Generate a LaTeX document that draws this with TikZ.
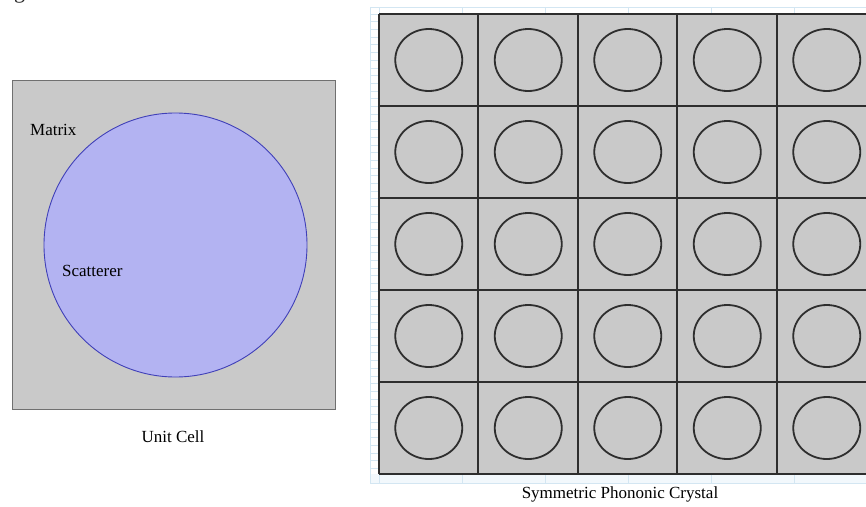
\documentclass[tikz,border=0pt]{standalone}
\usepackage{fontspec}
\setmainfont{Liberation Serif}
\definecolor{cellgray}{HTML}{C9C9C9}
\definecolor{cellborder}{HTML}{707070}
\definecolor{scatfill}{HTML}{B3B3F2}
\definecolor{scatline}{HTML}{4040B8}
\definecolor{ruler}{HTML}{D3E6F2}
\definecolor{rulerfill}{HTML}{F2F8FC}
\definecolor{gridline}{HTML}{2E2E2E}
\begin{document}
\begin{tikzpicture}[x=1pt,y=-1pt,
  lbl/.style={inner sep=0pt,font=\fontsize{17}{20}\selectfont},
  inlbl/.style={inner sep=0pt,anchor=west,font=\fontsize{17}{19}\selectfont},
  hole/.style={draw=gridline,line width=1.8pt},
  rulertick/.style={draw=ruler,line width=0.8pt}]
\useasboundingbox (0,0) rectangle (866,506);
\fill[white] (0,0) rectangle (866,506);
% cut-off caption at top
\node[inner sep=0pt,anchor=base west,font=\fontsize{22}{24}\selectfont,text=black!85] (cap) at (14,-1.5) {gure 3.};
% ---------- unit cell ----------
\draw[fill=cellgray,draw=cellborder,line width=1pt] (12,80) rectangle (335,409);
\draw[fill=scatfill,draw=scatline,line width=0.9pt] (175.5,245) ellipse (131.5 and 132);
\node[inlbl] (matrix) at (30,130) {Matrix};
\node[inlbl] (scat) at (62,271) {Scatterer};
\node[lbl] (unit) at (173,437) {Unit Cell};
% ---------- crystal ----------
\fill[rulerfill] (370,474) rectangle (866,483);
\draw[ruler,line width=0.8pt] (370,7) -- (866,7);
\draw[ruler,line width=0.8pt] (370,483) -- (866,483);
\draw[ruler,line width=0.8pt] (370,7) -- (370,483);
\foreach \k in {0,...,6} {
  \draw[rulertick] ({379+83*\k},7) -- ({379+83*\k},14);
  \draw[rulertick] ({379+83*\k},474) -- ({379+83*\k},483);
}
\foreach \j in {0,...,59} {
  \draw[rulertick] (370,{14+7.7*\j}) -- (378,{14+7.7*\j});
}
\fill[cellgray] (379,14) rectangle (877,474);
\foreach \xx in {379,478,578,677,777,877} {
  \draw[gridline,line width=1.6pt] (\xx,14) -- (\xx,474);
}
\foreach \i in {0,...,5} {
  \draw[gridline,line width=1.6pt] (379,{14+92*\i}) -- (877,{14+92*\i});
}
\foreach \i in {0,...,4} {
  \foreach \j in {0,...,4} {
    \draw[hole] ({428.75+99.5*\i},{60+92*\j}) ellipse (33.5 and 31);
  }
}
\node[lbl] (crystal) at (620,494) {Symmetric Phononic Crystal};
\end{tikzpicture}
\end{document}
